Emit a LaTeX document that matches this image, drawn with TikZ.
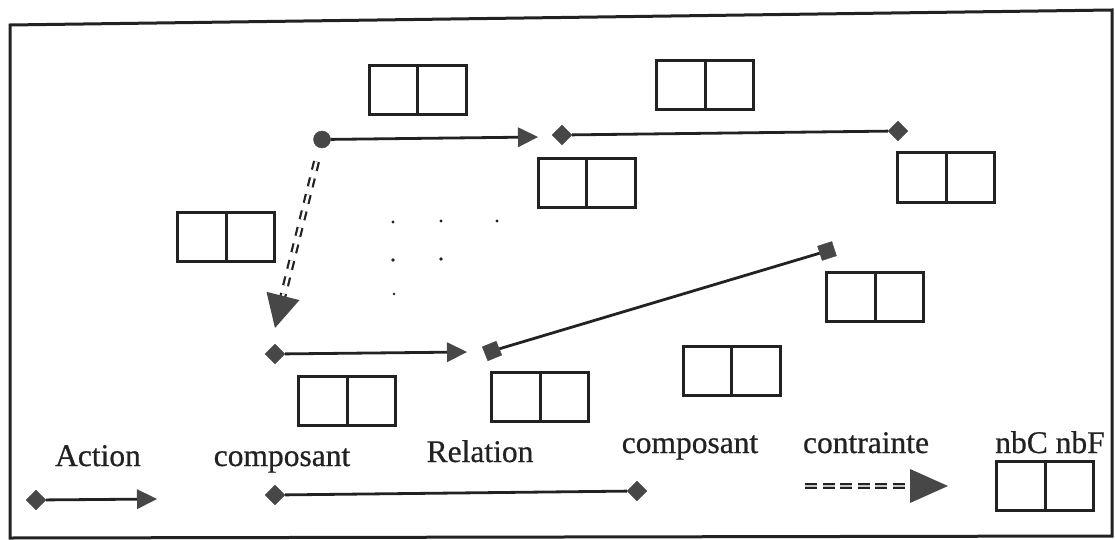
\documentclass[tikz,border=0pt]{standalone}
\usepackage{fontspec}
\setmainfont{Liberation Serif}[FakeBold=0.6]
\usetikzlibrary{arrows.meta,shapes.geometric,calc}
\definecolor{ink}{HTML}{222222}
\definecolor{tipfill}{HTML}{474747}
\begin{document}
\begin{tikzpicture}[x=1pt,y=-1pt,
  cell/.style={draw=ink,line width=3pt,minimum width=97pt,minimum height=49pt,inner sep=0pt,outer sep=0pt},
  lozenge/.style={diamond,fill=tipfill,draw=tipfill,line width=0.4pt,inner sep=0pt,minimum width=20pt,minimum height=20pt},
  tilted/.style={rectangle,fill=tipfill,draw=tipfill,line width=0.4pt,inner sep=0pt,minimum size=15pt,rotate=#1},
  knob/.style={circle,fill=tipfill,draw=tipfill,inner sep=0pt,minimum size=17pt},
  dot/.style={circle,fill=ink,inner sep=0pt,minimum size=#1},
  action/.style={draw=ink,line width=2.8pt,-{Triangle[length=20pt,width=20pt,line width=0pt,fill=tipfill,color=tipfill]}},
  relation/.style={draw=ink,line width=2.8pt},
  constraint/.style={draw=ink,line width=2.2pt,double=white,double distance=2.6pt,dash pattern=on 9pt off 8pt},
  constraintkey/.style={draw=ink,line width=2.8pt,double=gray!45,double distance=1.2pt,dash pattern=on 12pt off 5.5pt},
  legendtext/.style={anchor=base,inner sep=0pt,text=ink,font=\fontsize{31.5}{36}\selectfont},
]
\useasboundingbox (0,0) rectangle (1115,540);

% outer frame
\draw[ink,line width=3pt,line join=miter] (10,25) -- (1112,10) -- (1112,536) -- (10,538) -- cycle;

% two-cell boxes (nbC | nbF)
\node[cell] (b1) at (417.5,90) {};
\node[cell] (b2) at (705,85.5) {};
\node[cell] (b3) at (586.5,183) {};
\node[cell] (b4) at (946,177.5) {};
\node[cell] (b5) at (226,236.5) {};
\node[cell] (b6) at (875,297) {};
\node[cell] (b7) at (731.5,370.5) {};
\node[cell] (b8) at (347,400.5) {};
\node[cell] (b9) at (540,396.5) {};
\node[cell] (bk) at (1045,486) {};
\foreach \b in {b1,b2,b3,b4,b5,b6,b7,b8,b9,bk}
  \draw[ink,line width=3pt] (\b.north) -- (\b.south);

% action from the origin point
\node[knob] (c0) at (322,139.5) {};
\coordinate (a1) at (538,137);
\draw[action] (c0) -- (a1);

% upper relation
\node[lozenge] (d1) at (562,135) {};
\node[lozenge] (d2) at (898,131) {};
\draw[relation] (d1) -- (d2);

% constraint going down
\coordinate (t2) at (275,328);
\draw[constraint,shorten <=14pt,shorten >=30pt] (c0) -- (t2);
\coordinate (t2b) at ($(t2)!33pt!(c0)$);
\fill[tipfill] (t2) -- ($(t2b)!17pt!90:(t2)$) -- ($(t2b)!17pt!-90:(t2)$) -- cycle;

% lower action
\node[lozenge] (d3) at (275,354) {};
\coordinate (a2) at (467,352);
\draw[action] (d3) -- (a2);

% lower relation
\node[tilted=22] (s1) at (492,351) {};
\node[tilted=18] (s2) at (827,251) {};
\draw[relation] (s1) -- (s2);

% ellipsis dots
\node[dot=3.4pt] (p1) at (393,222) {};
\node[dot=3.2pt] (p2) at (441,221) {};
\node[dot=3.2pt] (p3) at (497,221) {};
\node[dot=3.6pt] (p4) at (393,260) {};
\node[dot=3.6pt] (p5) at (441,259) {};
\node[dot=2.6pt] (p6) at (394,294) {};

% legend texts
\node[legendtext] (tAction) at (98,466) {Action};
\node[legendtext] (tComp1) at (282,466) {composant};
\node[legendtext] (tRel) at (480,462) {Relation};
\node[legendtext] (tComp2) at (690,453) {composant};
\node[legendtext] (tCons) at (866,453) {contrainte};
\node[legendtext] (tNb) at (1050,453) {nbC nbF};

% legend: action
\node[lozenge] (k1) at (36,500) {};
\coordinate (k2) at (157,499);
\draw[action] (k1) -- (k2);

% legend: relation between components
\node[lozenge] (k3) at (275,495) {};
\node[lozenge] (k4) at (637,491) {};
\draw[relation] (k3) -- (k4);

% legend: constraint
\coordinate (k5) at (805,486);
\coordinate (k6) at (948,486);
\draw[constraintkey,shorten >=38pt] (k5) -- (k6);
\coordinate (k6b) at ($(k6)!38pt!(k5)$);
\fill[tipfill] (k6) -- ($(k6b)!17pt!90:(k6)$) -- ($(k6b)!17pt!-90:(k6)$) -- cycle;
\end{tikzpicture}
\end{document}
